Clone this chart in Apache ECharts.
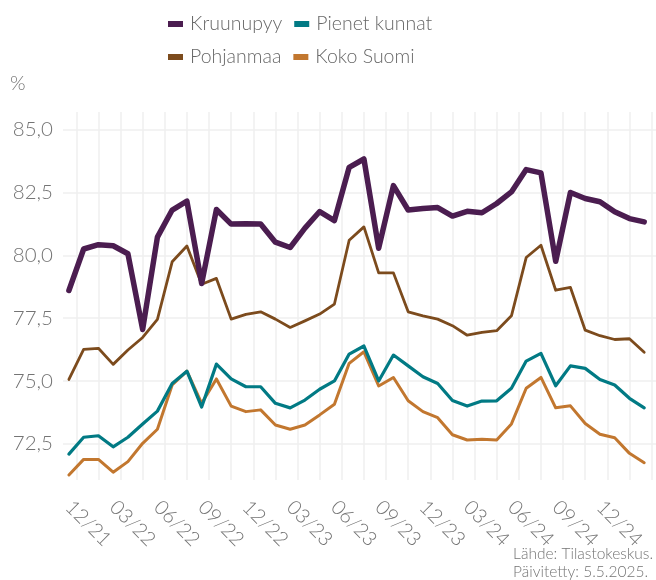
<!DOCTYPE html>
<html>
<head>
<meta charset="utf-8">
<script src="https://cdn.jsdelivr.net/npm/echarts@6/dist/echarts.min.js"></script>
<style>
  html, body { margin: 0; padding: 0; background: #fff; }
  #chart { width: 656px; height: 580px; }
</style>
</head>
<body>
<div id="chart"></div>
<script>
// kuukaudet 12/21 - 03/25
const kuukaudet = ['12/21','01/22','02/22','03/22','04/22','05/22','06/22','07/22','08/22','09/22',
  '10/22','11/22','12/22','01/23','02/23','03/23','04/23','05/23','06/23','07/23',
  '08/23','09/23','10/23','11/23','12/23','01/24','02/24','03/24','04/24','05/24',
  '06/24','07/24','08/24','09/24','10/24','11/24','12/24','01/25','02/25','03/25'];

const kruunupyy = [78.6, 80.25, 80.42, 80.38, 80.06, 77.05, 80.72, 81.8, 82.15, 78.88,
  81.82, 81.24, 81.25, 81.24, 80.52, 80.31, 81.08, 81.74, 81.38, 83.5,
  83.83, 80.28, 82.77, 81.8, 81.86, 81.9, 81.56, 81.75, 81.69, 82.06,
  82.52, 83.41, 83.28, 79.76, 82.5, 82.26, 82.13, 81.73, 81.46, 81.33];

const pienetKunnat = [72.09, 72.76, 72.82, 72.38, 72.76, 73.29, 73.8, 74.9, 75.39, 73.96,
  75.67, 75.08, 74.77, 74.77, 74.11, 73.93, 74.24, 74.67, 75.0, 76.07,
  76.39, 75.0, 76.03, 75.6, 75.17, 74.9, 74.22, 74.0, 74.2, 74.21,
  74.71, 75.79, 76.1, 74.81, 75.6, 75.5, 75.06, 74.84, 74.31, 73.93];

const pohjanmaa = [75.06, 76.26, 76.3, 75.66, 76.23, 76.73, 77.45, 79.74, 80.37, 78.85,
  79.08, 77.46, 77.65, 77.75, 77.46, 77.13, 77.39, 77.66, 78.06, 80.6,
  81.13, 79.3, 79.3, 77.75, 77.59, 77.46, 77.2, 76.82, 76.93, 77.0,
  77.59, 79.91, 80.4, 78.61, 78.72, 77.02, 76.8, 76.65, 76.68, 76.14];

const kokoSuomi = [71.26, 71.88, 71.88, 71.37, 71.79, 72.52, 73.08, 74.84, 75.39, 74.11,
  75.08, 74.0, 73.78, 73.85, 73.25, 73.08, 73.25, 73.65, 74.07, 75.7,
  76.16, 74.8, 75.14, 74.21, 73.78, 73.54, 72.86, 72.65, 72.68, 72.65,
  73.29, 74.71, 75.14, 73.93, 74.01, 73.31, 72.88, 72.74, 72.12, 71.75];

const yTicks = [72.5, 75, 77.5, 80, 82.5, 85];

// näytettävät x-akselin tekstit (joka kolmas kuukausi)
let xLabelIdx = [];
kuukaudet.forEach(function (k, i) {
  if (['03', '06', '09', '12'].indexOf(k.slice(0, 2)) >= 0) xLabelIdx.push(i);
});
xLabelIdx = xLabelIdx.filter(i => i <= 36);

// pystysuorat apuviivat puolentoista kuukauden välein
let xGrid = [];
for (let g = 0.5; g < kuukaudet.length; g += 1.5) xGrid.push(g);

const fontFam = 'Lato, "Open Sans", sans-serif';
const grey = '#747474';

function toPairs(arr) {
  return arr.map((v, i) => [i, v]);
}

function mkSeries(name, arr, color, width) {
  return {
    name: name,
    type: 'line',
    data: toPairs(arr),
    symbol: 'none',
    lineStyle: { color: color, width: width, join: 'round', cap: 'round' },
    itemStyle: { color: color },
    emphasis: { disabled: true }
  };
}

let myChart = echarts.init(document.getElementById('chart'), null, { renderer: 'canvas' });
let legendBase = {
  left: 163,
  icon: 'rect',
  itemWidth: 15,
  itemHeight: 6,
  itemGap: 12,
  itemStyle: { borderWidth: 0 },
  textStyle: { fontFamily: fontFam, fontSize: 19.5, fontWeight: 300, color: '#686868', padding: [0, 0, 0, 2] }
};
let option = {
  animation: false,
  backgroundColor: '#fff',
  legend: [
    Object.assign({}, legendBase, { top: 9, data: ['Kruunupyy', 'Pienet kunnat'] }),
    Object.assign({}, legendBase, { top: 42, data: ['Pohjanmaa', 'Koko Suomi'] })
  ],
  graphic: [
    {
      type: 'text', left: 10, top: 74,
      style: { text: '%', fontFamily: fontFam, fontSize: 20, fontWeight: 300, fill: grey }
    },
    {
      type: 'text', right: 3, top: 545,
      style: {
        text: 'Lähde: Tilastokeskus.\nPäivitetty: 5.5.2025.', align: 'right',
        fontFamily: fontFam, fontSize: 15.5, fontWeight: 300, fill: grey, lineHeight: 18
      }
    }
  ],
  grid: { left: 63, right: 0, top: 112, bottom: 100, containLabel: false },
  xAxis: {
    type: 'value',
    min: -0.4,
    max: 39.8,
    axisLine: { show: false },
    axisTick: { show: false, customValues: xGrid },
    splitLine: { show: true, lineStyle: { color: '#efefef', width: 1.5 } },
    axisLabel: {
      customValues: xLabelIdx,
      formatter: v => kuukaudet[Math.round(v)],
      rotate: -45,
      margin: 24,
      fontFamily: fontFam,
      fontSize: 20,
      fontWeight: 300,
      color: grey
    }
  },
  yAxis: {
    type: 'value',
    min: 71.06,
    max: 85.7,
    axisLine: { show: false },
    axisTick: { show: false, customValues: yTicks },
    splitLine: { show: true, lineStyle: { color: '#efefef', width: 1.5 } },
    axisLabel: {
      customValues: yTicks,
      formatter: v => v.toFixed(1).replace('.', ','),
      margin: 10,
      fontFamily: fontFam,
      fontSize: 20.5,
      fontWeight: 300,
      color: grey
    }
  },
  series: [
    mkSeries('Koko Suomi', kokoSuomi, '#c2772f', 3),
    mkSeries('Pohjanmaa', pohjanmaa, '#7c4b1d', 2.8),
    mkSeries('Pienet kunnat', pienetKunnat, '#017a84', 3.2),
    mkSeries('Kruunupyy', kruunupyy, '#4b1d50', 5.5)
  ]
};
myChart.setOption(option);
</script>
</body>
</html>
